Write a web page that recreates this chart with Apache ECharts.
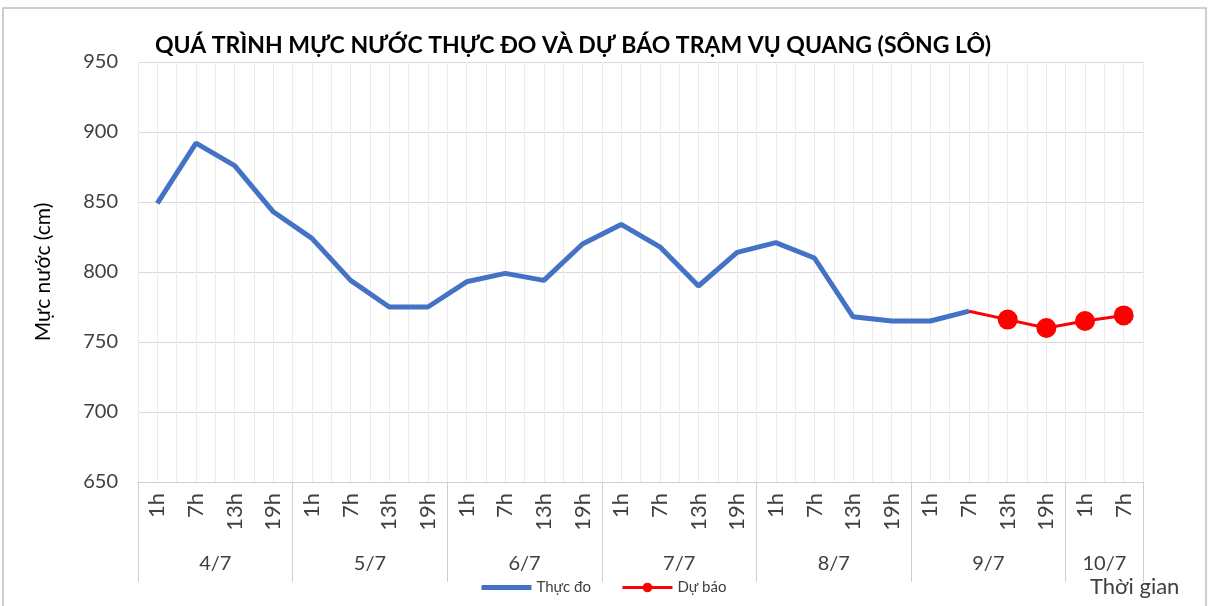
<!DOCTYPE html>
<html>
<head>
<meta charset="utf-8">
<script src="https://cdn.jsdelivr.net/npm/echarts@6/dist/echarts.min.js"></script>
<style>html,body{margin:0;padding:0;background:#fff}#c{width:1215px;height:606px}</style>
</head>
<body>
<div id="c"></div>
<script>
const hours = ['1h','7h','13h','19h','1h','7h','13h','19h','1h','7h','13h','19h','1h','7h','13h','19h','1h','7h','13h','19h','1h','7h','13h','19h','1h','7h'];
const days = ['4/7','5/7','6/7','7/7','8/7','9/7','10/7'];
const dayCounts = [4,4,4,4,4,4,2];
const observed = [849,892,876,843,824,794,775,775,793,799,794,820,834,818,790,814,821,810,768,765,765,772,null,null,null,null];
const forecast = [null,null,null,null,null,null,null,null,null,null,null,null,null,null,null,null,null,null,null,null,null,772,766,760,765,769];

const FONT = 'Lato, "Open Sans", sans-serif';
const n = hours.length;
const bounds = [0];
dayCounts.forEach(c => bounds.push(bounds[bounds.length-1] + c));
const centers = dayCounts.map((c,i) => bounds[i] + c/2);

const chart = echarts.init(document.getElementById('c'));
chart.setOption({
  animation: false,
  backgroundColor: '#fff',
  title: {
    text: 'QUÁ TRÌNH MỰC NƯỚC THỰC ĐO VÀ DỰ BÁO TRẠM VỤ QUANG (SÔNG LÔ)',
    left: 150, top: 29,
    textStyle: {fontFamily: '"Liberation Sans Narrow", Lato, "Noto Sans", sans-serif', fontWeight: 'bold', fontSize: 23, color: '#000'}
  },
  grid: {left: 138, right: 72, top: 62, bottom: 124},
  legend: {
    bottom: 6, left: 474,
    itemWidth: 50, itemHeight: 12, itemGap: 30,
    textStyle: {fontFamily: FONT, fontSize: 15, color: '#404040'},
    data: [
      {name: 'Thực đo', itemStyle: {opacity: 0}, lineStyle: {width: 5}},
      {name: 'Dự báo', lineStyle: {width: 3}}
    ]
  },
  xAxis: [
    {
      type: 'category', data: hours, boundaryGap: true,
      axisLine: {show: true, lineStyle: {color: '#d0d0d0'}},
      axisTick: {show: false},
      axisLabel: {rotate: 90, interval: 0, fontFamily: FONT, fontSize: 22, color: '#404040', margin: 11},
      splitLine: {show: true, interval: 0, lineStyle: {color: '#d9d9d9'}}
    },
    {
      type: 'category', data: Array.from({length: n*2}, () => ''), boundaryGap: true,
      axisLine: {show: false}, axisTick: {show: false}, axisLabel: {show: false},
      splitLine: {show: true, interval: 0, lineStyle: {color: '#ececec'}}
    },
    {
      type: 'value', min: 0, max: n, position: 'bottom',
      axisLine: {show: false},
      splitLine: {show: false},
      axisTick: {show: true, customValues: bounds, length: 100, lineStyle: {color: '#d0d0d0'}},
      axisLabel: {
        customValues: centers, margin: 72,
        fontFamily: FONT, fontSize: 20, color: '#404040',
        formatter: v => { const i = centers.indexOf(v); return i >= 0 ? days[i] : ''; }
      }
    }
  ],
  yAxis: {
    type: 'value', min: 650, max: 950, interval: 50,
    name: 'Mực nước (cm)', nameLocation: 'middle', nameGap: 84,
    nameTextStyle: {fontFamily: FONT, fontSize: 21, color: '#000'},
    axisLine: {show: false}, axisTick: {show: false},
    axisLabel: {fontFamily: FONT, fontSize: 20, color: '#404040', margin: 20},
    splitLine: {lineStyle: {color: '#d9d9d9'}}
  },
  series: [
    {
      name: 'Thực đo', type: 'line', data: observed, xAxisIndex: 0,
      symbol: 'none', lineStyle: {color: '#4472C4', width: 5}, itemStyle: {color: '#4472C4'}, z: 3
    },
    {
      name: 'Dự báo', type: 'line', xAxisIndex: 0,
      data: forecast.map((v, i) => (v !== null && i > 0 && forecast[i-1] === null) ? {value: v, symbolSize: 0} : v),
      symbol: 'circle', symbolSize: 20, lineStyle: {color: '#FF0000', width: 3}, itemStyle: {color: '#FF0000'}, z: 4
    }
  ],
  graphic: [
    {type: 'rect', shape: {x: 3, y: 8, width: 1203, height: 600}, style: {fill: 'none', stroke: '#bfbfbf', lineWidth: 1.5}, silent: true},
    {type: 'text', left: 1090, top: 576, style: {text: 'Thời gian', font: '22px ' + FONT, fill: '#404040'}}
  ]
});
</script>
</body>
</html>
